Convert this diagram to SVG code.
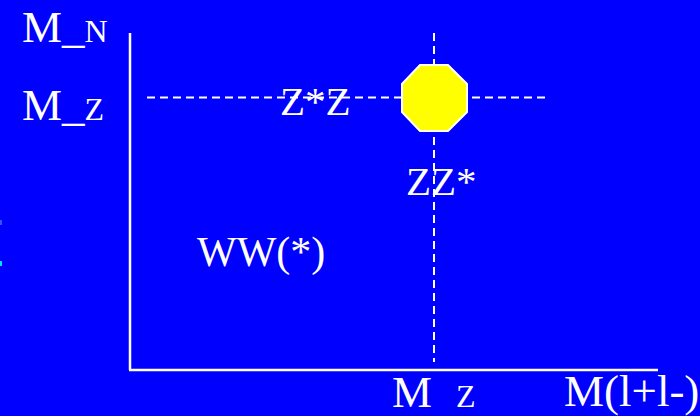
<svg xmlns="http://www.w3.org/2000/svg" width="700" height="416" viewBox="0 0 700 416">
<style>
.t{font-family:"Liberation Serif","Times New Roman",serif;fill:#fff}
.big{font-size:45px}
.sub{font-size:32px}
.lbl{font-size:41px}
.ww{font-size:42px}
.axis{stroke:#fff;stroke-width:2.5;fill:none}
.dash{stroke:#fff;stroke-width:2;stroke-dasharray:8 5;fill:none}
</style>
<rect width="700" height="416" fill="#0000FF"/>
<rect x="0" y="220" width="2" height="5" fill="#3355ff"/>
<rect x="0" y="261" width="2" height="5" fill="#00e0ff"/>
<g id="connectors">
<line class="axis" x1="130" y1="33" x2="130" y2="370"/>
<line class="axis" x1="129" y1="370" x2="658" y2="370"/>
<line class="dash" x1="147" y1="97.5" x2="545" y2="97.5"/>
<line class="dash" x1="434" y1="33" x2="434" y2="362"/>
</g>
<g id="point">
<polygon points="420,65 448,65 467,84 467,112 448,131 420,131 402,112 402,84" fill="#FFFF00" stroke="#fff" stroke-width="2"/>
</g>
<g id="label-MN"><text class="t big" x="22" y="42">M_<tspan class="sub">N</tspan></text></g>
<g id="label-MZ"><text class="t big" x="22" y="120">M_<tspan class="sub">Z</tspan></text></g>
<g id="label-ZsZ"><text class="t lbl" x="280" y="115">Z*Z</text></g>
<g id="label-ZZs"><text class="t lbl" x="406" y="195">ZZ*</text></g>
<g id="label-WW"><text class="t ww" x="197" y="266">WW(*)</text></g>
<g id="label-MZx"><text class="t big" x="392" y="407">M</text><text class="t sub" x="456" y="407">Z</text></g>
<g id="label-Mll"><text class="t big" x="564" y="406">M(l+l-)</text></g>
</svg>
